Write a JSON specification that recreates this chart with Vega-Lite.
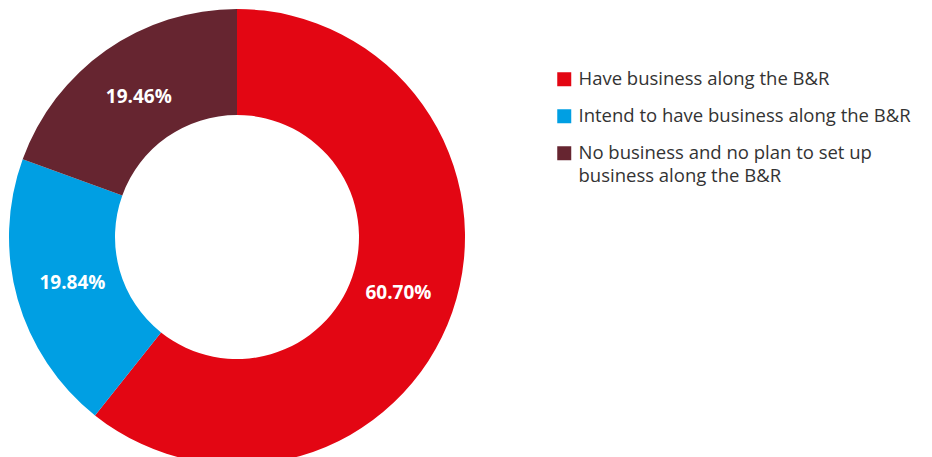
{
  "$schema": "https://vega.github.io/schema/vega-lite/v6.json",
  "autosize": "none",
  "width": 474,
  "height": 474,
  "padding": {"left": 0, "top": 0, "right": 458, "bottom": 0},
  "background": "white",
  "config": {"view": {"stroke": null}, "font": "Open Sans"},
  "data": {
    "values": [
      {"category": "Have business along the B&R", "share": 0.6070, "order": 1},
      {"category": "Intend to have business along the B&R", "share": 0.1984, "order": 2},
      {"category": "No business and no plan to set up| business along the B&R", "share": 0.1946, "order": 3}
    ]
  },
  "encoding": {
    "theta": {"field": "share", "type": "quantitative", "stack": true},
    "order": {"field": "order", "type": "quantitative"}
  },
  "layer": [
    {
      "mark": {"type": "arc", "outerRadius": 228, "innerRadius": 122},
      "encoding": {
        "color": {
          "field": "category",
          "type": "nominal",
          "sort": null,
          "scale": {
            "domain": ["Have business along the B&R", "Intend to have business along the B&R", "No business and no plan to set up| business along the B&R"],
            "range": ["#E30613", "#009FE3", "#662530"]
          },
          "legend": {
            "title": null,
            "orient": "none",
            "legendX": 555,
            "legendY": 70,
            "symbolType": "square",
            "symbolSize": 196,
            "symbolStrokeWidth": 0,
            "symbolOpacity": 1,
            "labelFont": "Open Sans",
            "labelFontSize": 18.5,
            "labelColor": "#333333",
            "labelLimit": 500,
            "labelOffset": 5,
            "rowPadding": 18,
            "labelExpr": "split(datum.label, '|')",
            "encode": {"labels": {"update": {"lineHeight": {"value": 23}}}}
          }
        }
      }
    },
    {
      "mark": {"type": "text", "radius": 171, "fontSize": 19, "fontWeight": "bold", "color": "white", "font": "Open Sans"},
      "encoding": {
        "text": {"field": "share", "type": "quantitative", "format": ".2%"},
        "detail": {"field": "category"}
      }
    }
  ]
}
